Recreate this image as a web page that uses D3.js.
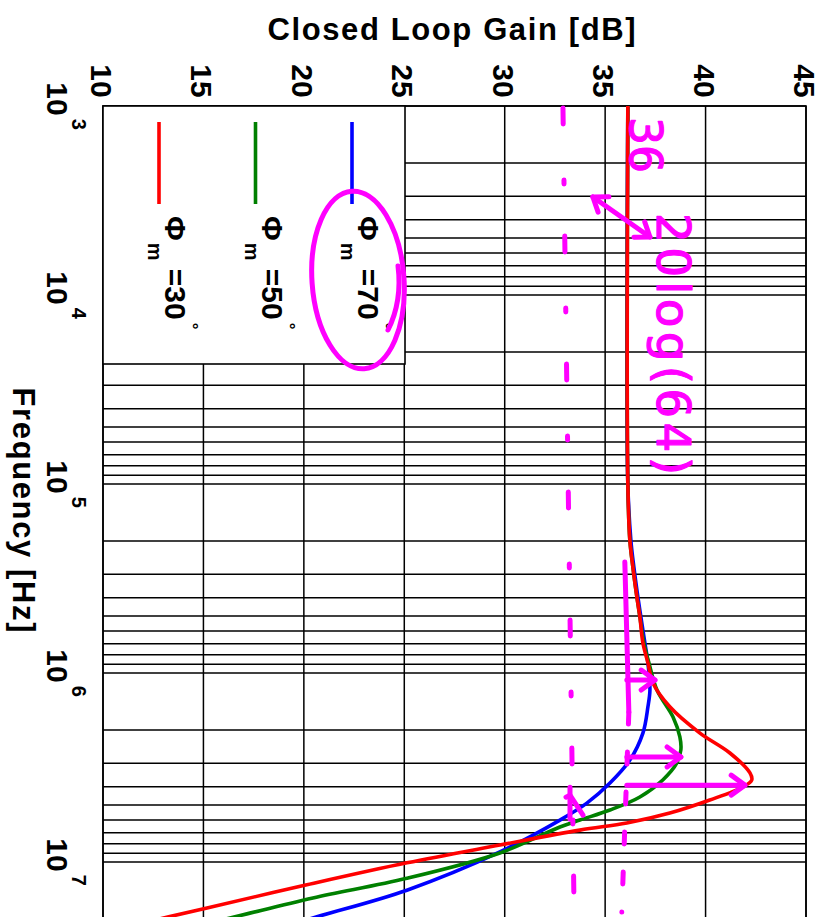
<!DOCTYPE html>
<html>
<head>
<meta charset="utf-8">
<script src="https://cdn.jsdelivr.net/npm/d3@7"></script>
<style>
  body { margin: 0; background: #fff; }
  svg text { font-family: "Liberation Sans", Arial, sans-serif; white-space: pre; }
</style>
</head>
<body>
<svg id="chart" width="825" height="917"></svg>
<script>
/** Axis ticks */
var gainTicks = [10, 15, 20, 25, 30, 35, 40, 45];
var freqDecades = [3, 4, 5, 6, 7];

/** Legend labels (phase margin in degrees) and colours */
var seriesNames = ["70", "50", "30"];
var seriesColors = ["#0000ff", "#008000", "#ff0000"];

/** Closed loop gain curves: freq [Hz] / gain [dB] */
var freqBlue = [1e3, 1e5, 1.98e5, 2.75e5, 3.96e5, 5.06e5, 6.94e5, 8.85e5, 1.23e6, 1.51e6, 2.08e6, 2.89e6, 3.82e6, 4.88e6, 6.0e6, 8.85e6, 1.41e7, 1.95e7, 2.43e7];
var gainBlue = [36.13, 36.13, 36.28, 36.43, 36.63, 36.78, 36.98, 37.13, 37.23, 37.13, 36.88, 36.23, 35.24, 34.09, 32.75, 29.76, 25.13, 20.65, 17.6];

var freqGreen = [1e3, 1e5, 1.98e5, 2.75e5, 3.96e5, 5.06e5, 6.94e5, 8.85e5, 1.23e6, 1.71e6, 2.18e6, 2.55e6, 2.99e6, 3.68e6, 4.53e6, 5.31e6, 6.0e6, 6.53e6, 8.96e6, 1.22e7, 1.55e7, 1.95e7, 2.43e7];
var gainGreen = [36.13, 36.13, 36.23, 36.38, 36.58, 36.73, 36.93, 37.18, 37.58, 38.38, 38.72, 38.77, 38.57, 37.87, 36.73, 35.24, 33.74, 32.75, 29.76, 25.13, 20.45, 16.57, 12.84];

var freqRed = [1e3, 1e5, 1.98e5, 2.75e5, 3.96e5, 5.06e5, 6.94e5, 8.85e5, 1.13e6, 1.51e6, 2.08e6, 2.65e6, 3.38e6, 3.68e6, 4.01e6, 4.70e6, 5.51e6, 6.22e6, 6.78e6, 8.13e6, 1.01e7, 1.32e7, 1.75e7, 2.29e7];
var gainRed = [36.13, 36.13, 36.23, 36.38, 36.58, 36.73, 36.88, 37.13, 37.38, 38.22, 39.72, 41.21, 42.21, 42.30, 41.86, 40.21, 38.22, 36.08, 33.74, 29.76, 25.13, 20.15, 15.18, 10.45];

/** Hand drawn (magenta) notes, in [gain dB, freq Hz] */
var minus3dBLine = [[32.9, 1.025e3], [33.45, 1.69e7]];
var dcLineSolid = [[35.98, 2.59e5], [36.18, 1.61e6]];
var dcLineDashed = [[36.18, 1.61e6], [35.83, 1.84e7]];
var doubleArrow = [[34.39, 3.03e3], [37.23, 4.93e3]];
var arrowFreqs = [1.09e6, 2.78e6, 3.92e6];
var arrowGains = [37.48, 38.77, 41.96];
var arrowBase = 36.08;
var smallArrow = [33.25, 4.43e6];

var ink = "#ff00ff";

var svg = d3.select("#chart");

// scales: the plot is turned a quarter turn, gain runs left->right, freq top->bottom
var x = d3.scaleLinear().domain([10, 45]).range([103, 806]);
var y = d3.scaleLog().domain([1e3, 1e8]).range([106, 1051]);

svg.append("clipPath").attr("id", "plotClip").append("rect")
  .attr("x", x(10)).attr("y", y(1e3))
  .attr("width", x(45) - x(10)).attr("height", y(1e8) - y(1e3));

// grid
var gridFreqs = [];
freqDecades.forEach(function(p) {
  for (var m = 1; m <= 9; m++) gridFreqs.push(m * Math.pow(10, p));
});

var grid = svg.append("g").attr("stroke", "#000").attr("stroke-width", 1.5);
grid.selectAll(".hgrid").data(gridFreqs).enter().append("line")
  .attr("x1", x(10)).attr("x2", x(45))
  .attr("y1", function(d) { return y(d); })
  .attr("y2", function(d) { return y(d); });
grid.selectAll(".vgrid").data(gainTicks).enter().append("line")
  .attr("x1", function(d) { return x(d); })
  .attr("x2", function(d) { return x(d); })
  .attr("y1", y(1e3)).attr("y2", y(1e8));

svg.append("rect")
  .attr("x", x(10)).attr("y", y(1e3))
  .attr("width", x(45) - x(10)).attr("height", y(1e8) - y(1e3))
  .attr("fill", "none").attr("stroke", "#000").attr("stroke-width", 1.6);

// gain tick labels (turned)
svg.selectAll(".gtick").data(gainTicks).enter().append("text")
  .attr("transform", function(d) { return "translate(" + (x(d) - 12) + ",81) rotate(90)"; })
  .attr("text-anchor", "middle")
  .attr("font-weight", "bold").attr("font-size", 30)
  .text(function(d) { return d; });

// frequency tick labels 10^n
var ft = svg.selectAll(".ftick").data(freqDecades).enter().append("text")
  .attr("transform", function(d) { return "translate(47," + y(Math.pow(10, d)) + ") rotate(90)"; })
  .attr("text-anchor", "middle")
  .attr("font-weight", "bold").attr("font-size", 30);
ft.append("tspan").text("10");
ft.append("tspan").attr("font-size", 20).attr("dy", -25).attr("dx", 3)
  .text(function(d) { return d; });

// axis titles
svg.append("text")
  .attr("x", (x(10) + x(45)) / 2 - 3).attr("y", 40)
  .attr("text-anchor", "middle")
  .attr("font-weight", "bold").attr("font-size", 31)
  .attr("textLength", 368).attr("lengthAdjust", "spacing")
  .text("Closed Loop Gain [dB]");

svg.append("text")
  .attr("transform", "translate(13,510) rotate(90)")
  .attr("text-anchor", "middle")
  .attr("font-weight", "bold").attr("font-size", 31)
  .attr("textLength", 245).attr("lengthAdjust", "spacing")
  .text("Frequency [Hz]");

// curves
var series = [
  { f: freqBlue, g: gainBlue },
  { f: freqGreen, g: gainGreen },
  { f: freqRed, g: gainRed }
];

var line = d3.line()
  .x(function(d) { return x(d[0]); })
  .y(function(d) { return y(d[1]); })
  .curve(d3.curveCatmullRom.alpha(0.5));

var curves = svg.append("g").attr("clip-path", "url(#plotClip)");
series.forEach(function(s, i) {
  var pts = s.f.map(function(f, j) { return [s.g[j], f]; });
  curves.append("path")
    .attr("d", line(pts))
    .attr("fill", "none")
    .attr("stroke", seriesColors[i])
    .attr("stroke-width", 3.6)
    .attr("stroke-linejoin", "round");
});

// legend
var lg = svg.append("g");
lg.append("rect")
  .attr("x", x(10)).attr("y", y(1e3))
  .attr("width", 302).attr("height", 258)
  .attr("fill", "#fff").attr("stroke", "#000").attr("stroke-width", 1.6);

seriesNames.forEach(function(name, i) {
  var lx = 352 - i * 96.5;
  lg.append("line")
    .attr("x1", lx).attr("x2", lx).attr("y1", 122).attr("y2", 204)
    .attr("stroke", seriesColors[i]).attr("stroke-width", 3.6);
  var t = lg.append("text")
    .attr("transform", "translate(" + (lx + 6) + ",216) rotate(90)")
    .attr("font-weight", "bold").attr("font-size", 30);
  t.append("tspan").text("\u03A6");
  t.append("tspan").attr("font-size", 20).attr("dy", 17).attr("dx", 2).text("m");
  t.append("tspan").attr("dy", -17).text(" =" + name);
  t.append("tspan").attr("font-size", 17).attr("dy", -21).attr("dx", 3).text("\u00B0");
});

// ---- hand drawn notes ----
var notes = svg.append("g")
  .attr("stroke", ink).attr("fill", "none")
  .attr("stroke-width", 5).attr("stroke-linecap", "round").attr("stroke-linejoin", "round");

var straight = d3.line()
  .x(function(d) { return x(d[0]); })
  .y(function(d) { return y(d[1]); });

// loop round the 70 degree label
notes.append("ellipse")
  .attr("cx", 358).attr("cy", 280).attr("rx", 46).attr("ry", 89)
  .attr("transform", "rotate(-4,358,280)");
notes.append("path").attr("d", "M398,266 C401,290 397,312 388,330");

// -3 dB line (dash dot) and DC gain line
notes.append("path").attr("d", straight(minus3dBLine))
  .attr("stroke-dasharray", "16,56,4,52");
notes.append("path").attr("d", straight(dcLineSolid));
notes.append("path").attr("d", straight(dcLineDashed))
  .attr("stroke-dasharray", "12,28");

function arrowHead(tx, ty, ang, len) {
  var a1 = ang + Math.PI * 0.8, a2 = ang - Math.PI * 0.8;
  return "M" + (tx + len * Math.cos(a1)) + "," + (ty + len * Math.sin(a1)) +
    "L" + tx + "," + ty +
    "L" + (tx + len * Math.cos(a2)) + "," + (ty + len * Math.sin(a2));
}

// peak arrows
arrowFreqs.forEach(function(f, i) {
  var yy = y(f), x0 = x(arrowBase), x1 = x(arrowGains[i]);
  notes.append("path").attr("d", "M" + x0 + "," + yy + "L" + x1 + "," + yy);
  notes.append("path").attr("d", arrowHead(x1, yy, 0, 17));
});

// double headed arrow near the top
var p0 = [x(doubleArrow[0][0]), y(doubleArrow[0][1])];
var p1 = [x(doubleArrow[1][0]), y(doubleArrow[1][1])];
var ang = Math.atan2(p1[1] - p0[1], p1[0] - p0[0]);
notes.append("path").attr("d", "M" + p0 + "L" + p1);
notes.append("path").attr("d", arrowHead(p1[0], p1[1], ang, 16));
notes.append("path").attr("d", arrowHead(p0[0], p0[1], ang + Math.PI, 16));

// small mark on the -3 dB line
var sa = [x(smallArrow[0]), y(smallArrow[1])];
notes.append("path").attr("d", "M" + sa[0] + "," + (sa[1] - 8) + "L" + sa[0] + "," + (sa[1] + 24));
notes.append("path").attr("d", "M" + (sa[0] - 4) + "," + (sa[1] + 2) + "L" + sa[0] + "," + sa[1] + "L" + (sa[0] + 13) + "," + (sa[1] + 20));

// handwritten text
svg.append("text")
  .attr("transform", "translate(" + (x(arrowBase) + 3) + ",117) rotate(90)")
  .attr("fill", ink).attr("stroke", ink).attr("stroke-width", 1.2)
  .attr("stroke-linejoin", "round").attr("font-size", 44)
  .style("font-family", "'DejaVu Sans', sans-serif")
  .text("36");
svg.append("text")
  .attr("transform", "translate(" + (x(arrowBase) + 30) + ",213) rotate(90)")
  .attr("fill", ink).attr("stroke", ink).attr("stroke-width", 1.2)
  .attr("stroke-linejoin", "round").attr("font-size", 47)
  .attr("textLength", 262).attr("lengthAdjust", "spacing")
  .style("font-family", "'DejaVu Sans', sans-serif")
  .text("20log(64)");
</script>
</body>
</html>
